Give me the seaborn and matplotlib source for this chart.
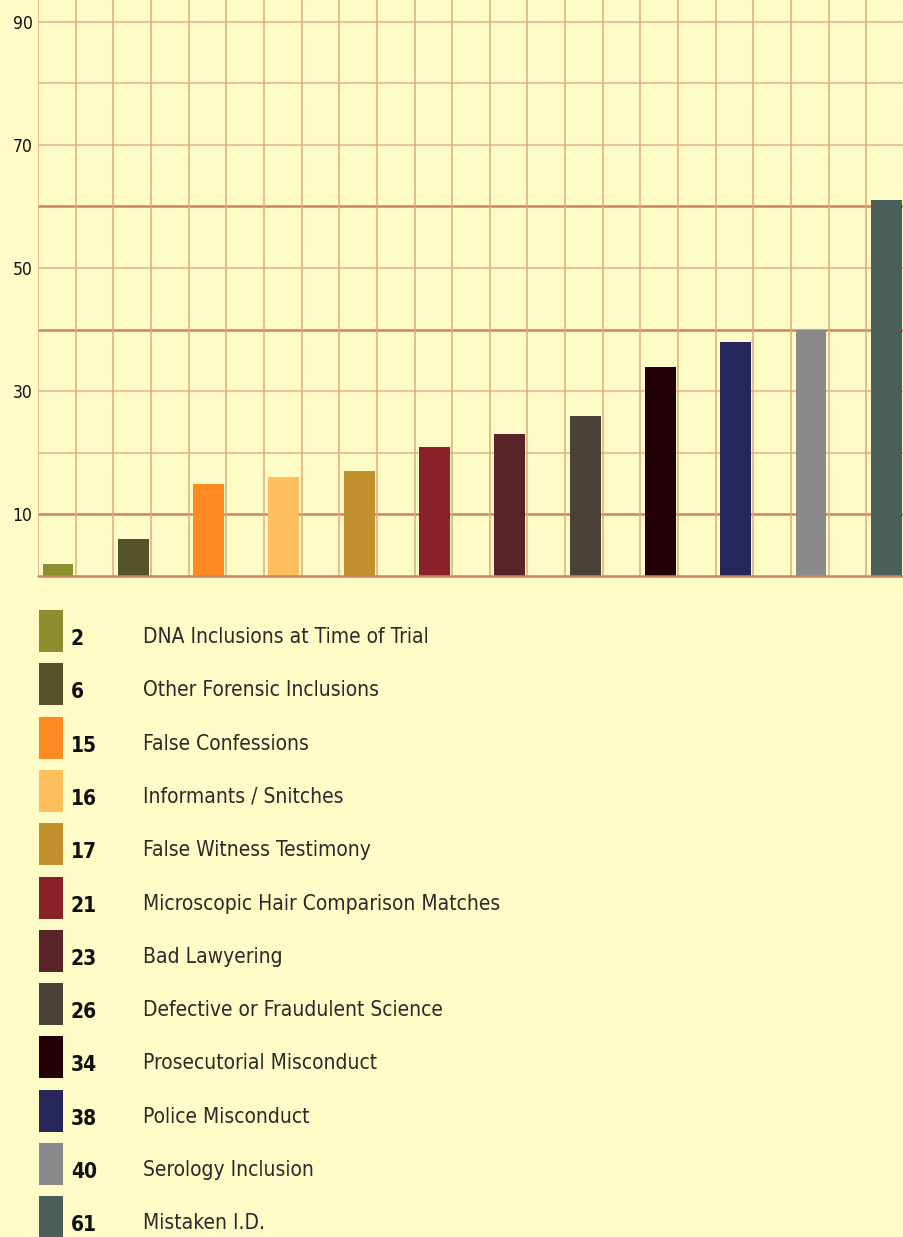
import numpy as np
import pandas as pd
import matplotlib
matplotlib.use("Agg")
import matplotlib.pyplot as plt
from matplotlib.patches import Rectangle
import seaborn as sns

# ---- data ----
categories = ["DNA Inclusions at Time of Trial", "Other Forensic Inclusions", "False Confessions",
              "Informants / Snitches", "False Witness Testimony", "Microscopic Hair Comparison Matches",
              "Bad Lawyering", "Defective or Fraudulent Science", "Prosecutorial Misconduct",
              "Police Misconduct", "Serology Inclusion", "Mistaken I.D."]
values = [2, 6, 15, 16, 17, 21, 23, 26, 34, 38, 40, 61]
colors = ["#8a8e2c", "#55532a", "#ff8a24", "#ffbe5c", "#c2902c", "#8a2229",
          "#5a2329", "#4a4237", "#210006", "#27265a", "#8a8a8c", "#4b5e5a"]
y_ticks = [10, 30, 50, 70, 90]

BG = "#fffbc6"
W, H = 904, 1237

sns.set_theme(style="white")
plt.rcParams["font.family"] = ["DejaVu Sans"]

fig = plt.figure(figsize=(W / 100, H / 100), dpi=100, facecolor=BG)
ax = fig.add_axes([38 / W, 1 - 576 / H, 1 - 38 / W, 576 / H])
ax.set_facecolor(BG)

df = pd.DataFrame({"cat": categories, "val": values})
sns.barplot(data=df, x="cat", y="val", hue="cat", palette=colors, order=categories,
            hue_order=categories, dodge=False, legend=False, width=0.41, ax=ax,
            saturation=1, zorder=3, linewidth=0)

ax.set_ylim(0, 576 / 6.16)
ax.set_xlim(-0.265, 11.19)

# grid
for v in range(10, 100, 10):
    strong = v in (10, 40, 60)
    ax.axhline(v, color="#c9875a" if strong else "#e6c394", lw=1.8 if strong else 1.5,
               zorder=1)
for xv in np.arange(-0.265, 11.3, 0.5):
    ax.axvline(xv, color="#dcac7c", lw=1.1, zorder=1)
ax.axhline(0, color="#c9875a", lw=1.8, zorder=4, clip_on=False)

ax.set_yticks(y_ticks)
ax.set_yticklabels([str(t) for t in y_ticks], fontsize=12.5, color="#111111",
                   fontstretch="condensed")
ax.tick_params(axis="y", length=0, pad=4)
ax.set_xticks(np.arange(-0.265, 11.3, 0.5))
ax.set_xticklabels([])
ax.tick_params(axis="x", length=5, color="#e6c394", width=1)
ax.set_xlabel("")
ax.set_ylabel("")
for s in ax.spines.values():
    s.set_visible(False)

# legend rows
for i, (cat, val, col) in enumerate(zip(categories, values, colors)):
    yc = 637 + i * 53.3
    fig.patches.append(Rectangle((39 / W, 1 - (yc + 15) / H), 24 / W, 42 / H,
                                 transform=fig.transFigure, facecolor=col,
                                 edgecolor="none", figure=fig))
    fig.text(71 / W, 1 - (yc + 2) / H, str(val), fontsize=15, fontweight="bold",
             color="#111111", va="center", ha="left", fontstretch="condensed")
    fig.text(143 / W, 1 - yc / H, cat, fontsize=15, color="#2a2a2a",
             va="center", ha="left", fontstretch="condensed")

fig.savefig("out.png", dpi=100, facecolor=BG)
